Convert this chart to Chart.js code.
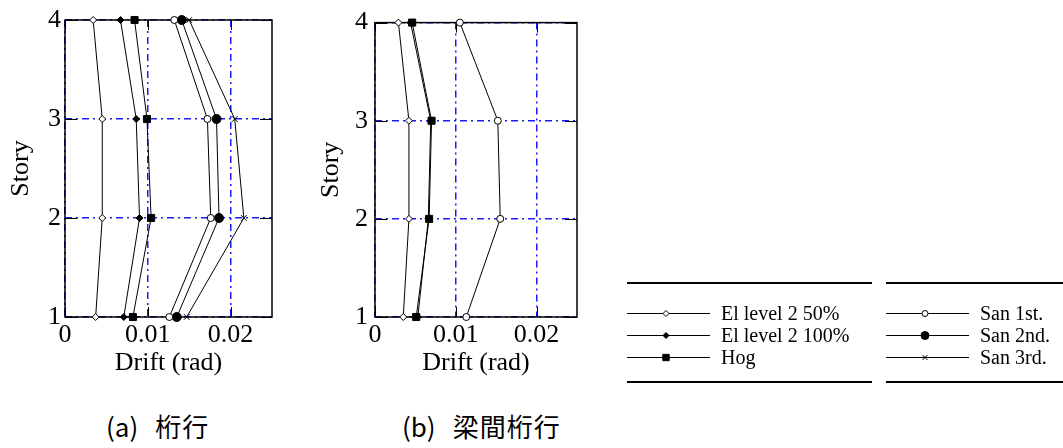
<!DOCTYPE html>
<html>
<head>
<meta charset="utf-8">
<script src="https://cdn.jsdelivr.net/npm/chart.js@4/dist/chart.umd.min.js"></script>
<style>
  body { margin: 0; background: #fff; width: 1063px; height: 448px; position: relative; overflow: hidden; }
  .plot { position: absolute; top: 0; width: 290px; height: 385px; }
  #legend { position: absolute; left: 600px; top: 270px; width: 463px; height: 125px; }
  .cap { position: absolute; top: 407px; font-family: "Noto Sans CJK JP", sans-serif; font-size: 26px; color: #000; white-space: pre; }
  .cap span { letter-spacing: 1px; }
</style>
</head>
<body>
<div class="plot" style="left:0"><canvas id="plotA"></canvas></div>
<div class="plot" style="left:300px"><canvas id="plotB"></canvas></div>
<canvas id="legend" width="463" height="125"></canvas>
<div class="cap" style="left:106px">(a)<span style="margin-left:17px">桁行</span></div>
<div class="cap" style="left:402px">(b)<span style="margin-left:17px">梁間桁行</span></div>

<script>
const stories = [1, 2, 3, 4]
const xTicks = [0, 0.01, 0.02]

// (a) drift per story, bottom to top
const aEl50 = [0.0037, 0.0045, 0.0045, 0.0034]
const aEl100 = [0.0071, 0.0090, 0.0086, 0.0067]
const aHog = [0.0082, 0.0104, 0.0099, 0.0084]
const aSan1 = [0.0126, 0.0176, 0.0172, 0.0132]
const aSan2 = [0.0135, 0.0186, 0.0183, 0.0141]
const aSan3 = [0.0147, 0.0216, 0.0205, 0.0150]

// (b)
const bEl50 = [0.0035, 0.0042, 0.0042, 0.0029]
const bEl100 = [0.0053, 0.0066, 0.0069, 0.0044]
const bHog = [0.0051, 0.0067, 0.0070, 0.0046]
const bSan1 = [0.0113, 0.0155, 0.0152, 0.0105]

const names = ["El level 2 50%", "El level 2 100%", "Hog", "San 1st.", "San 2nd.", "San 3rd."]

const markers = [
  { pointStyle: "rectRot", radius: 3.5, fill: "#fff" },
  { pointStyle: "rectRot", radius: 3.5, fill: "#000" },
  { pointStyle: "rect", radius: 5, fill: "#000" },
  { pointStyle: "circle", radius: 3.5, fill: "#fff" },
  { pointStyle: "circle", radius: 4.5, fill: "#000" },
  { pointStyle: "crossRot", radius: 4, fill: "#fff" }
]

const SERIF = '"Liberation Serif", "Times New Roman", serif'
Chart.defaults.font.family = SERIF
Chart.defaults.color = "#000"

const series = (idx, values) => ({
  label: names[idx],
  data: values.map((v, i) => ({ x: v, y: stories[i] })),
  showLine: true,
  borderColor: "#000",
  borderWidth: 1,
  pointStyle: markers[idx].pointStyle,
  pointRadius: markers[idx].radius,
  pointBackgroundColor: markers[idx].fill,
  pointBorderColor: "#000",
  pointBorderWidth: 1,
  clip: false
})

// black frame and inward ticks, drawn under the lines
const framePlugin = {
  id: "frame",
  beforeDatasetsDraw(chart) {
    const { ctx, chartArea: a, scales } = chart
    ctx.save()
    ctx.strokeStyle = "#000"
    ctx.lineWidth = 1.5
    ctx.strokeRect(a.left, a.top, a.right - a.left, a.bottom - a.top)
    ctx.lineWidth = 1
    ctx.beginPath()
    stories.forEach((s) => {
      const y = Math.round(scales.y.getPixelForValue(s)) + 0.5
      ctx.moveTo(a.left, y); ctx.lineTo(a.left + 12, y)
      ctx.moveTo(a.right, y); ctx.lineTo(a.right - 12, y)
    })
    xTicks.forEach((t) => {
      const x = Math.round(scales.x.getPixelForValue(t)) + 0.5
      ctx.moveTo(x, a.bottom); ctx.lineTo(x, a.bottom - 10)
      ctx.moveTo(x, a.top); ctx.lineTo(x, a.top + 10)
    })
    ctx.stroke()
    ctx.restore()
  }
}

function makePlot(canvas, datasets, yWidth, rightPad, titlePad, tickPad) {
  return new Chart(canvas, {
    type: "scatter",
    data: { datasets },
    options: {
      responsive: true,
      maintainAspectRatio: false,
      animation: false,
      layout: { padding: { top: 20, right: rightPad, bottom: 0, left: 0 } },
      plugins: { legend: { display: false }, tooltip: { enabled: false } },
      scales: {
        x: {
          type: "linear",
          min: 0,
          max: 0.025,
          afterBuildTicks: (s) => { s.ticks = xTicks.map((v) => ({ value: v })) },
          afterFit: (s) => { s.height = 68 },
          grid: { color: "#1a1aff", lineWidth: 1.5, drawTicks: false },
          border: { display: false, dash: [7, 4, 2, 4] },
          ticks: { padding: 3, font: { size: 26 }, maxRotation: 0, callback: (v) => (v === 0 ? "0" : v.toFixed(2)) },
          title: { display: true, text: "Drift (rad)", font: { size: 26 }, padding: { top: 0, bottom: 6 } }
        },
        y: {
          type: "linear",
          min: 1,
          max: 4,
          afterFit: (s) => { s.width = yWidth },
          grid: { color: "#1a1aff", lineWidth: 1.5, drawTicks: false },
          border: { display: false, dash: [7, 4, 2, 4] },
          ticks: { stepSize: 1, padding: tickPad, font: { size: 26 } },
          title: { display: true, text: "Story", font: { size: 26 }, padding: { top: titlePad, bottom: 0 } }
        }
      }
    },
    plugins: [framePlugin]
  })
}

// legend, two boxed groups of three
function drawLegend() {
  const lg = document.getElementById("legend").getContext("2d")
  const group = (x0, x1, first) => {
    lg.strokeStyle = "#000"
    lg.lineWidth = 2
    lg.beginPath()
    lg.moveTo(x0, 13); lg.lineTo(x1, 13)
    lg.moveTo(x0, 112); lg.lineTo(x1, 112)
    lg.stroke()
    for (let k = 0; k < 3; k++) {
      const idx = first + k
      const y = 43.5 + k * 22
      lg.lineWidth = 1
      lg.beginPath()
      lg.moveTo(x0, y); lg.lineTo(x0 + 83, y)
      lg.stroke()
      lg.fillStyle = markers[idx].fill
      Chart.helpers.drawPoint(lg, { pointStyle: markers[idx].pointStyle, radius: markers[idx].radius - 0.5, rotation: 0, borderWidth: 1 }, x0 + 39, y)
      lg.fillStyle = "#000"
      lg.font = "20px " + SERIF
      lg.textBaseline = "middle"
      lg.fillText(names[idx], x0 + 94, y + 1)
    }
  }
  group(27, 272, 0)
  group(286, 463, 3)
}

document.fonts.load("26px " + SERIF).then(() => {
  makePlot(document.getElementById("plotA"), [
    series(0, aEl50), series(1, aEl100), series(2, aHog),
    series(3, aSan1), series(4, aSan2), series(5, aSan3)
  ], 65, 18, 6, 4)

  makePlot(document.getElementById("plotB"), [
    series(0, bEl50), series(1, bEl100), series(2, bHog), series(3, bSan1)
  ], 75, 13, 16, 7)

  drawLegend()
})
</script>
</body>
</html>
